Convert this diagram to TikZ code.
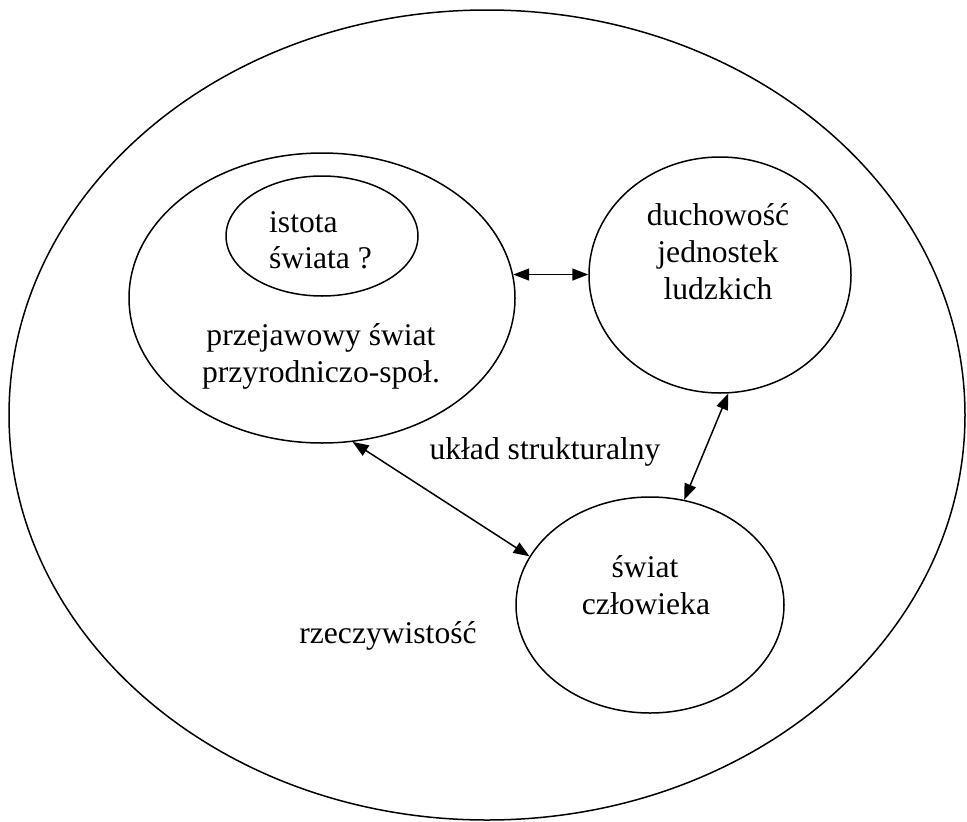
\documentclass[tikz,border=0pt]{standalone}
\usepackage{fontspec}
\setmainfont{Liberation Serif}
\usetikzlibrary{shapes.geometric,arrows.meta}
\begin{document}
\begin{tikzpicture}[x=1pt,y=-1pt,
  oval/.style={draw,ellipse,line width=1.5pt,inner sep=0pt},
  lbl/.style={inner sep=0pt,font=\fontsize{31.6}{37}\selectfont},
  link/.style={line width=1.5pt,{Triangle[length=16pt,width=12pt]}-{Triangle[length=16pt,width=12pt]}}]
\useasboundingbox (0,0) rectangle (967,822);
\node[oval,minimum width=956pt,minimum height=810pt] (world) at (487,415) {};
\node[oval,minimum width=386pt,minimum height=290pt] (L) at (322,298) {};
\node[oval,minimum width=192pt,minimum height=120pt] (I) at (322,236) {};
\node[oval,minimum width=262pt,minimum height=236pt] (R) at (720,275) {};
\node[oval,minimum width=268pt,minimum height=216pt] (B) at (650,605) {};
% texts
\node[lbl,anchor=base west] (i1) at (269,232) {istota};
\node[lbl,anchor=base west] (i2) at (269,268) {świata ?};
\node[lbl,anchor=base] (l1) at (321,345) {przejawowy świat};
\node[lbl,anchor=base] (l2) at (321,382) {przyrodniczo-społ.};
\node[lbl,anchor=base] (r1) at (718,225) {duchowość};
\node[lbl,anchor=base] (r2) at (718,262) {jednostek};
\node[lbl,anchor=base] (r3) at (718,299) {ludzkich};
\node[lbl,anchor=base] (u) at (545,459) {układ strukturalny};
\node[lbl,anchor=base] (b1) at (645,577) {świat};
\node[lbl,anchor=base] (b2) at (646,614) {człowieka};
\node[lbl,anchor=base] (w) at (388,643) {rzeczywistość};
% connectors
\draw[link] (L.7) -- (L.7 -| R.west);
\draw[link] (L.-78) -- (B.158);
\draw[link] (R.-86) -- (B.72);
\end{tikzpicture}
\end{document}
